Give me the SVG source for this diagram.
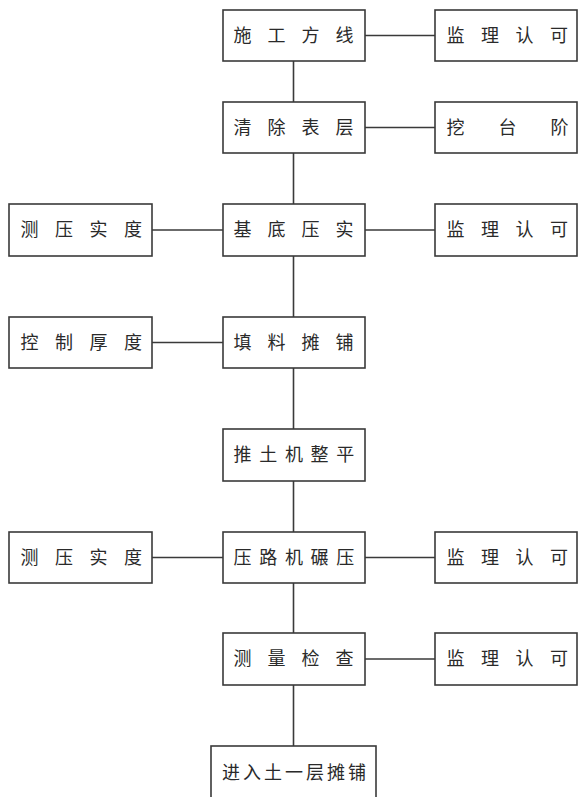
<svg xmlns="http://www.w3.org/2000/svg" width="586" height="797" viewBox="0 0 586 797">
<style>
rect.box{fill:#fff;stroke:#3a3a3a;stroke-width:1.6}
text{font-family:"Noto Sans CJK SC","Noto Sans CJK TC",sans-serif;font-size:18px;fill:#2a2a2a}
.con line{stroke:#3a3a3a;stroke-width:1.6}
</style>
<rect width="586" height="797" fill="#fff"/>
<g class="con" id="connectors">
<line x1="293.5" y1="61" x2="293.5" y2="102"/>
<line x1="293.5" y1="153" x2="293.5" y2="204"/>
<line x1="293.5" y1="256" x2="293.5" y2="317"/>
<line x1="293.5" y1="368" x2="293.5" y2="429"/>
<line x1="293.5" y1="481" x2="293.5" y2="532"/>
<line x1="293.5" y1="583" x2="293.5" y2="633"/>
<line x1="293.5" y1="685" x2="293.5" y2="746"/>
<line x1="365" y1="35.5" x2="435" y2="35.5"/>
<line x1="365" y1="127.5" x2="435" y2="127.5"/>
<line x1="365" y1="230" x2="435" y2="230"/>
<line x1="152" y1="230" x2="223" y2="230"/>
<line x1="152" y1="342.5" x2="223" y2="342.5"/>
<line x1="152" y1="557.5" x2="223" y2="557.5"/>
<line x1="365" y1="557.5" x2="435" y2="557.5"/>
<line x1="365" y1="659" x2="435" y2="659"/>
</g>
<g id="n1"><rect class="box" x="223" y="10" width="142" height="51"/><text x="233.5 267.5 301.5 335.5" y="41.5">施工方线</text></g>
<g id="n1r"><rect class="box" x="435" y="10" width="142" height="51"/><text x="446.5 481 515.5 550" y="41.5">监理认可</text></g>
<g id="n2"><rect class="box" x="223" y="102" width="142" height="51"/><text x="233.5 267.5 301.5 335.5" y="133.5">清除表层</text></g>
<g id="n2r"><rect class="box" x="435" y="102" width="142" height="51"/><text x="446.5 498.5 550.5" y="133.5">挖台阶</text></g>
<g id="n3"><rect class="box" x="223" y="204" width="142" height="52"/><text x="233.5 267.5 301.5 335.5" y="236">基底压实</text></g>
<g id="n3l"><rect class="box" x="9" y="204" width="143" height="52"/><text x="20.5 55 89.5 124" y="236">测压实度</text></g>
<g id="n3r"><rect class="box" x="435" y="204" width="142" height="52"/><text x="446.5 481 515.5 550" y="236">监理认可</text></g>
<g id="n4"><rect class="box" x="223" y="317" width="142" height="51"/><text x="233.5 267.5 301.5 335.5" y="348.5">填料摊铺</text></g>
<g id="n4l"><rect class="box" x="9" y="317" width="143" height="51"/><text x="20.5 55 89.5 124" y="348.5">控制厚度</text></g>
<g id="n5"><rect class="box" x="223" y="429" width="142" height="52"/><text x="233.5 259.2 284.9 310.6 336.3" y="461">推土机整平</text></g>
<g id="n6"><rect class="box" x="223" y="532" width="142" height="51"/><text x="233.5 259.2 284.9 310.6 336.3" y="563.5">压路机碾压</text></g>
<g id="n6l"><rect class="box" x="9" y="532" width="143" height="51"/><text x="20.5 55 89.5 124" y="563.5">测压实度</text></g>
<g id="n6r"><rect class="box" x="435" y="532" width="142" height="51"/><text x="446.5 481 515.5 550" y="563.5">监理认可</text></g>
<g id="n7"><rect class="box" x="223" y="633" width="142" height="52"/><text x="233.5 267.5 301.5 335.5" y="665">测量检查</text></g>
<g id="n7r"><rect class="box" x="435" y="633" width="142" height="52"/><text x="446.5 481 515.5 550" y="665">监理认可</text></g>
<g id="n8"><rect class="box" x="211" y="746" width="165" height="60"/><text x="222 243 264 285 306 327 348" y="779">进入土一层摊铺</text></g>
</svg>
